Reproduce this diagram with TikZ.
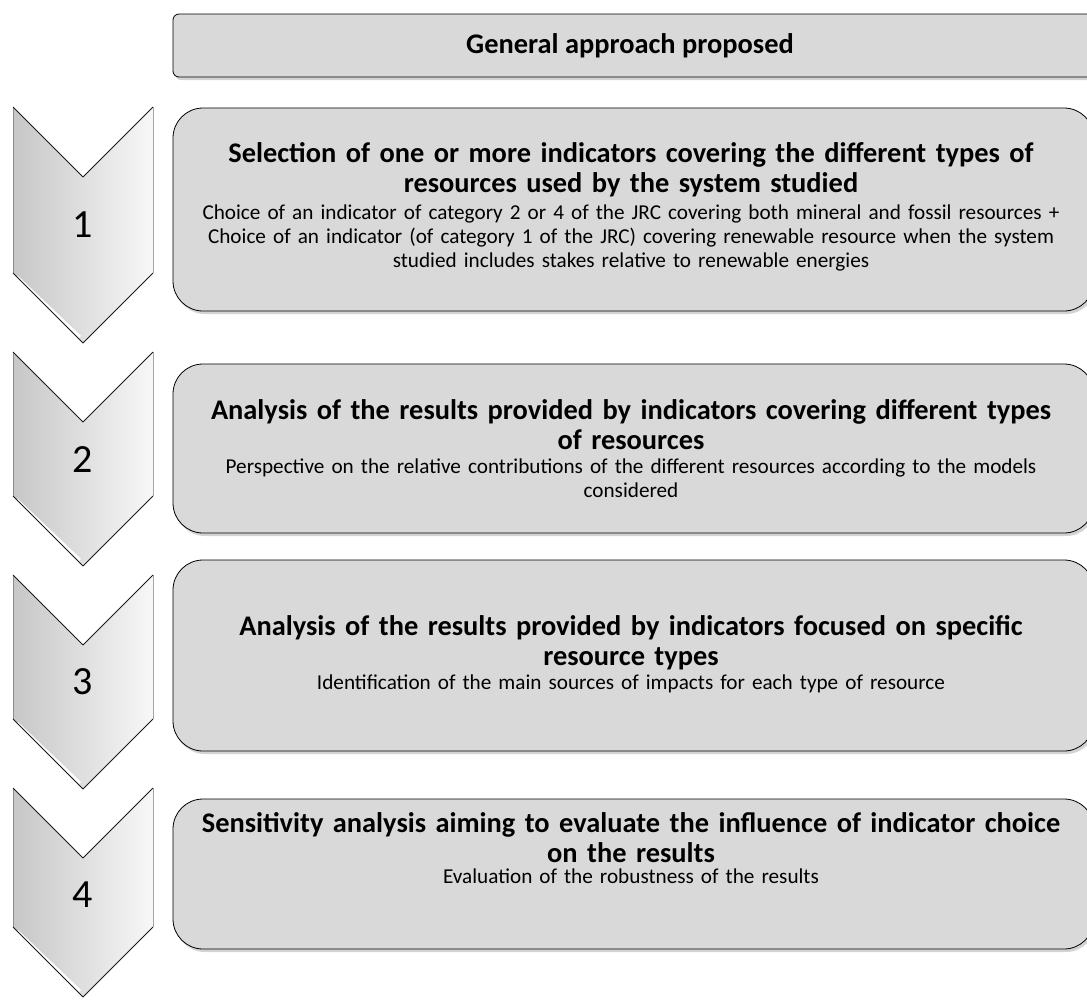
\documentclass[tikz,border=0pt]{standalone}
\usepackage{fontspec}
\setmainfont{Carlito}
\usetikzlibrary{shadows,positioning}

\tikzset{
	card/.style={draw=black, line width=0.8pt, fill=black!15,
		drop shadow={shadow xshift=2pt, shadow yshift=-3pt, opacity=0.35}},
	cardtitle/.style={anchor=base, text width=920pt, align=center, inner sep=0pt,
		font=\fontsize{28.4}{30}\selectfont\bfseries},
	cardbody/.style={anchor=base, text width=920pt, align=center, inner sep=0pt,
		font=\fontsize{21.2}{24}\selectfont},
	stepnum/.style={font=\fontsize{40}{44}\selectfont, inner sep=0pt}
}

\begin{document}
\begin{tikzpicture}[x=1pt,y=-1pt]
	\useasboundingbox (0,0) rectangle (1087,999);

	% chevrons on the left
	\foreach \t/\b/\n/\m in {107/273/1/225,352/496/2/460,575/719/3/682,788/927/4/895}{
		\shade[left color=black!22, right color=black!3]
			(13,\t) -- (83,\t+70) -- (153,\t) -- (153,\b) -- (83,\b+70) -- (13,\b) -- cycle;
		\draw[black!45, line width=0.6pt] (13,\t) -- (13,\b);
		\draw[black!35, line width=0.6pt] (153,\t) -- (153,\b);
		\draw[white, line width=3pt] (17,\b+4) -- (80,\b+64);
		\draw[black!90, line width=0.9pt, line join=round]
			(13,\t) -- (83,\t+70) -- (153,\t);
		\draw[black!90, line width=0.9pt, line join=round]
			(13,\b) -- (83,\b+70) -- (153,\b);
		\node[stepnum] (num\n) at (83,\m) {\n};
	}

	% header
	\draw[card, rounded corners=6pt] (173,14) rectangle (1094,77);
	\node[font=\fontsize{28.4}{30}\selectfont\bfseries] (head) at (630,46) {General approach proposed};

	% step boxes
	\foreach \t/\b in {108/311,364/533,560/751,799/949}{
		\draw[card, rounded corners=30pt] (173,\t) rectangle (1094,\b);
	}

	\node[cardtitle] (title1) at (631,162) {Selection of one or more indicators covering the different types of\\resources used by the system studied};
	\node[cardbody] (body1) at (631,219) {Choice of an indicator of category 2 or 4 of the JRC covering both mineral and fossil resources +\\Choice of an indicator (of category 1 of the JRC) covering renewable resource when the system\\studied includes stakes relative to renewable energies};

	\node[cardtitle] (title2) at (631,419) {Analysis of the results provided by indicators covering different types\\of resources};
	\node[cardbody] (body2) at (631,473) {Perspective on the relative contributions of the different resources according to the models\\considered};

	\node[cardtitle] (title3) at (631,635) {Analysis of the results provided by indicators focused on specific\\resource types};
	\node[cardbody] (body3) at (631,689) {Identification of the main sources of impacts for each type of resource};

	\node[cardtitle] (title4) at (631,832) {Sensitivity analysis aiming to evaluate the influence of indicator choice\\on the results};
	\node[cardbody] (body4) at (631,883) {Evaluation of the robustness of the results};

\end{tikzpicture}
\end{document}
